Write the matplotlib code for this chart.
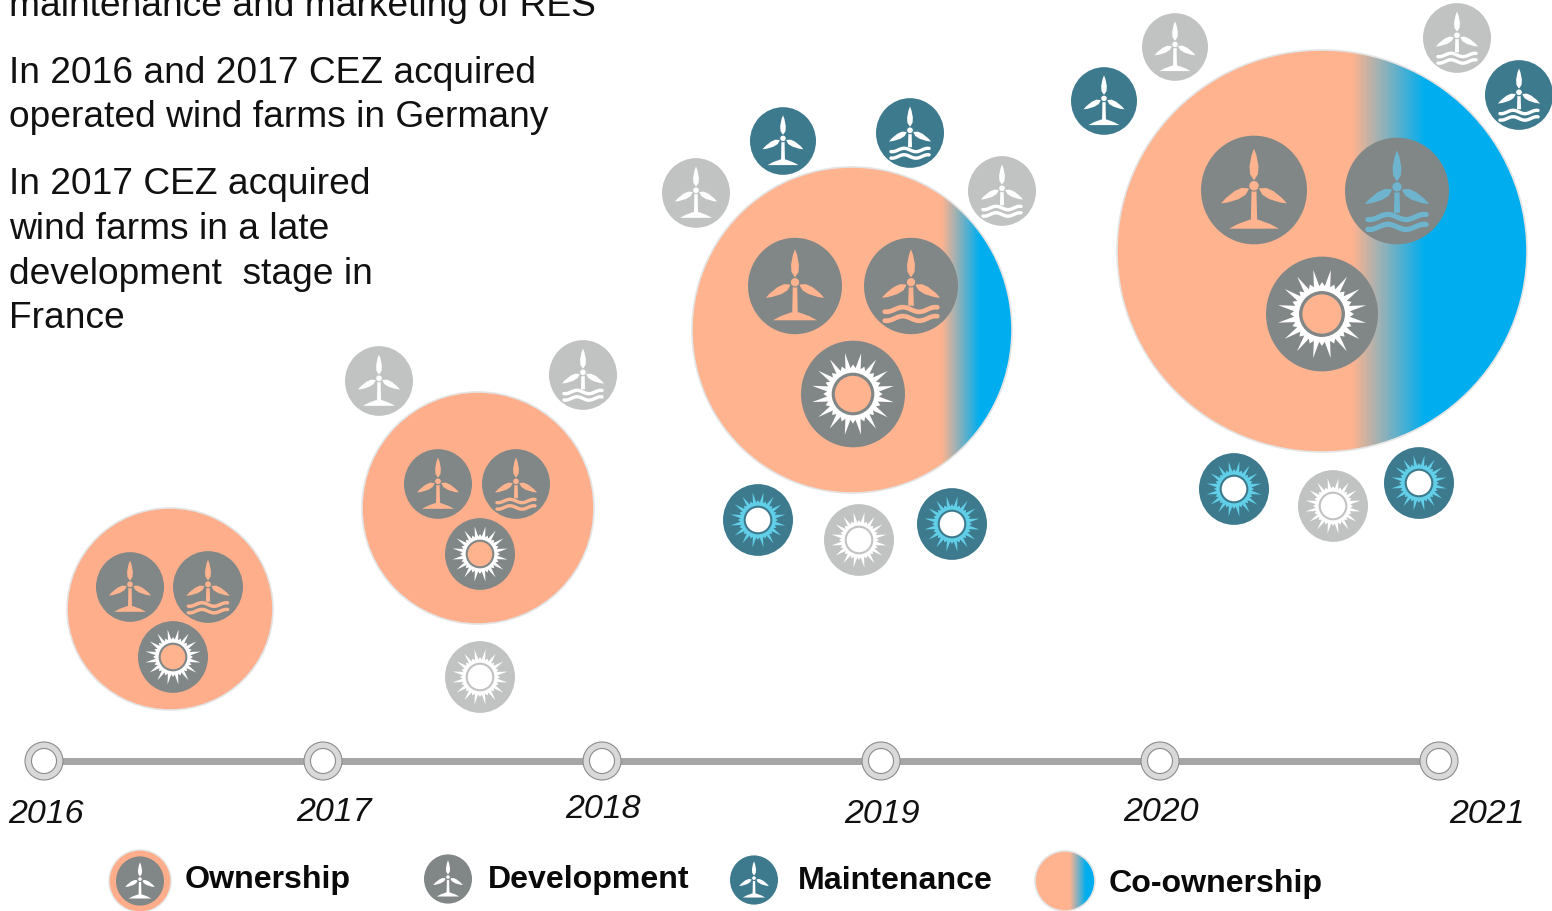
import numpy as np
import matplotlib
matplotlib.use("Agg")
import matplotlib.pyplot as plt
from matplotlib.colors import LinearSegmentedColormap
from matplotlib.patches import Circle, Ellipse, Polygon

plt.rcParams['font.family'] = ['Liberation Sans', 'DejaVu Sans']

# timeline
years = ["2016", "2017", "2018", "2019", "2020", "2021"]
year_node_x = [44, 323, 602, 881, 1160, 1439]
year_label_x = [46, 334, 603, 882, 1161, 1487]
year_label_y = [814, 812, 809, 814, 812, 814]

# text block on the top left
note_lines = ["maintenance and marketing of RES",
              "In 2016 and 2017 CEZ acquired",
              "operated wind farms in Germany",
              "In 2017 CEZ acquired",
              "wind farms in a late",
              "development  stage in",
              "France"]
note_baselines = [15, 82, 126, 193, 238, 283, 327]

# big portfolio bubbles, the originals are a little out of round
bubble_x = [170, 478, 852, 1322]
bubble_y = [609, 508, 330, 251]
bubble_rx = [103, 116, 160, 205]
bubble_ry = [101, 116, 163, 201]
bubble_fill = ["#FFAE8B", "#FFAE8B", "#FFB38F", "#FFB38F"]
fade_start = [None, None, 942, 1352]
fade_end = [None, None, 980, 1425]

# icons: (kind, x, y, radius)
owned_icons = [("wind", 130, 587, 34), ("sea", 208, 587, 35), ("sun", 173, 657, 35),
               ("wind", 438, 484, 34), ("sea", 516, 484, 34), ("sun", 480, 554, 35),
               ("wind", 795, 286, 47), ("sea", 911, 286, 47), ("sun", 853, 394, 52),
               ("wind", 1254, 190, 53), ("sea", 1397, 191, 52), ("sun", 1322, 314, 56)]
dev_icons = [("wind", 379, 381, 34), ("sea", 583, 375, 34), ("sun", 480, 677, 35),
             ("wind", 696, 193, 34), ("sea", 1002, 191, 34), ("sun", 859, 540, 35),
             ("wind", 1175, 47, 33), ("sea", 1457, 38, 34), ("sun", 1333, 506, 35)]
maint_icons = [("wind", 783, 141, 33), ("sea", 910, 133, 34), ("sun", 758, 520, 35), ("sun", 952, 524, 35),
               ("wind", 1104, 101, 33), ("sea", 1519, 95, 34), ("sun", 1234, 489, 35), ("sun", 1419, 483, 35)]

# legend
legend_names = ["Ownership", "Development", "Maintenance", "Co-ownership"]
legend_text_x = [185, 488, 798, 1109]
legend_text_y = [879, 879, 880, 883]

PEACH = "#FFB38F"
BLUE = "#00AEEF"
GRAY = "#808786"
LIGHT = "#C1C3C3"
TEAL = "#3E7A8E"
CYAN = "#62CFE8"
EDGE = "#E4E4E4"

fig = plt.figure(figsize=(15.52, 9.12), dpi=100)
ax = fig.add_axes([0, 0, 1, 1])
ax.axis("off")

fade_cmap = LinearSegmentedColormap.from_list("fade", [PEACH, BLUE])


def draw_bubble(x, y, rx, ry, fill=PEACH, start=None, end=None, z=2):
    if start is None:
        ax.add_patch(Ellipse((x, y), 2 * rx, 2 * ry, fc=fill, ec=EDGE, lw=1.2, zorder=z))
        return
    xs = np.linspace(x - rx, x + rx, 400)
    grad = np.clip((xs - start) / (end - start), 0, 1)
    im = ax.imshow(grad[None, :], cmap=fade_cmap, extent=(x - rx, x + rx, y + ry, y - ry),
                   aspect="auto", zorder=z, interpolation="bilinear")
    im.set_clip_path(Ellipse((x, y), 2 * rx, 2 * ry, transform=ax.transData))
    ax.add_patch(Ellipse((x, y), 2 * rx, 2 * ry, fc="none", ec=EDGE, lw=1.2, zorder=z + 0.1))


def blade(x, y, r, angle, length, color, z):
    # blade shape pointing up, then turned by angle
    px = np.array([0, 0.075, 0.085, 0.045, 0, -0.045, -0.085, -0.075]) * r
    py = np.array([0, 0.2, 0.45, 0.8, 1.0, 0.8, 0.45, 0.2]) * length * r
    a = np.radians(angle)
    qx = x + px * np.cos(a) + py * np.sin(a)
    qy = y + px * np.sin(a) - py * np.cos(a)
    ax.add_patch(Polygon(np.column_stack([qx, qy]), fc=color, ec="none", zorder=z))


def draw_turbine(x, y, r, color, ring, z, sea=False):
    hub_y = y - 0.08 * r
    bottom = y + (0.42 if sea else 0.62) * r
    # tower
    ax.add_patch(Polygon([(x - 0.045 * r, hub_y), (x + 0.045 * r, hub_y),
                          (x + 0.06 * r, bottom), (x - 0.06 * r, bottom)],
                         fc=color, ec="none", zorder=z))
    blade(x, hub_y - 0.1 * r, r, 0, 0.6, color, z)
    blade(x + 0.09 * r, hub_y + 0.05 * r, r, 118, 0.6, color, z)
    blade(x - 0.09 * r, hub_y + 0.05 * r, r, -118, 0.6, color, z)
    ax.add_patch(Circle((x, hub_y), 0.1 * r, fc=color, ec=ring, lw=0.8, zorder=z + 0.1))
    if sea:
        for dy in (0.5, 0.69):
            xs = np.linspace(-0.56, 0.56, 40)
            ax.plot(x + xs * r, y + (dy + 0.05 * np.sin(xs * 9)) * r, color=color,
                    lw=0.1 * r * 0.72, solid_capstyle="round", zorder=z)
    else:
        ax.add_patch(Polygon([(x - 0.47 * r, y + 0.73 * r), (x - 0.3 * r, y + 0.64 * r),
                              (x - 0.08 * r, y + 0.56 * r), (x + 0.08 * r, y + 0.56 * r),
                              (x + 0.3 * r, y + 0.64 * r), (x + 0.47 * r, y + 0.73 * r)],
                             fc=color, ec="none", zorder=z))


def draw_sun(x, y, r, spike, hole, ring, z):
    n = 32
    ang = np.linspace(0, 2 * np.pi, n * 2, endpoint=False) + 0.1
    rad = np.full(n * 2, 0.5)
    rad[1::4] = 0.8
    rad[3::4] = 0.57
    qx = x + rad * r * np.cos(ang)
    qy = y + rad * r * np.sin(ang)
    ax.add_patch(Polygon(np.column_stack([qx, qy]), fc=spike, ec="none", zorder=z))
    ax.add_patch(Circle((x, y), 0.41 * r, fc=ring, ec="none", zorder=z + 0.1))
    ax.add_patch(Circle((x, y), 0.35 * r, fc=hole, ec="none", zorder=z + 0.2))


def draw_icon(kind, x, y, r, back, glyph, spike, hole, z=4):
    ax.add_patch(Ellipse((x, y), 2 * r, 2.05 * r, fc=back, ec="none", zorder=z))
    if kind == "sun":
        draw_sun(x, y, r, spike, hole, back, z + 0.5)
    else:
        draw_turbine(x, y, r, glyph, back, z + 0.5, sea=(kind == "sea"))


# timeline line and rings
ax.plot([year_node_x[0], year_node_x[-1]], [761, 761], color="#A6A6A6", lw=5, zorder=1,
        solid_capstyle="butt")
for x in year_node_x:
    ax.add_patch(Circle((x, 761), 19, fc="#D9D9D9", ec="#8C8C8C", lw=0.8, zorder=2))
    ax.add_patch(Circle((x, 761), 12.5, fc="white", ec="#8C8C8C", lw=0.8, zorder=3))

for lab, x, y in zip(years, year_label_x, year_label_y):
    ax.text(x, y, lab, fontsize=24.5, style="italic", ha="center", va="center", color="#111111")

for line, y in zip(note_lines, note_baselines):
    ax.text(9, y, line, fontsize=26.7, ha="left", va="baseline", color="#111111", clip_on=True)

# portfolio bubbles
for i in range(len(bubble_x)):
    draw_bubble(bubble_x[i], bubble_y[i], bubble_rx[i], bubble_ry[i], bubble_fill[i],
                fade_start[i], fade_end[i])

for kind, x, y, r in owned_icons:
    # the glyphs are see-through in the original, so the last sea icon shows the blue
    glyph = "#6FB4CE" if (x, y) == (1397, 191) else PEACH
    draw_icon(kind, x, y, r, GRAY, glyph, "white", PEACH)
for kind, x, y, r in dev_icons:
    draw_icon(kind, x, y, r, LIGHT, "white", "white", "white")
for kind, x, y, r in maint_icons:
    draw_icon(kind, x, y, r, TEAL, "white", CYAN, "white")

# legend
ax.add_patch(Circle((140, 881), 31, fc="#FFAD8A", ec=EDGE, lw=1, zorder=2))
draw_icon("wind", 140, 881, 24, GRAY, "white", "white", "white")
draw_icon("wind", 448, 879, 24, GRAY, "white", "white", "white")
draw_icon("wind", 754, 880, 24, TEAL, "white", "white", "white")
draw_bubble(1065, 881, 30, 30, PEACH, 1070, 1086)

for name, x, y in zip(legend_names, legend_text_x, legend_text_y):
    ax.text(x, y, name, fontsize=23.1, fontweight="bold", ha="left", va="center", color="#0A0A0A")

# one pixel lower than the plain canvas range, imshow resets the limits so set them last
ax.set_xlim(0, 1552)
ax.set_ylim(911, -1)
fig.savefig("out.png", dpi=100)
